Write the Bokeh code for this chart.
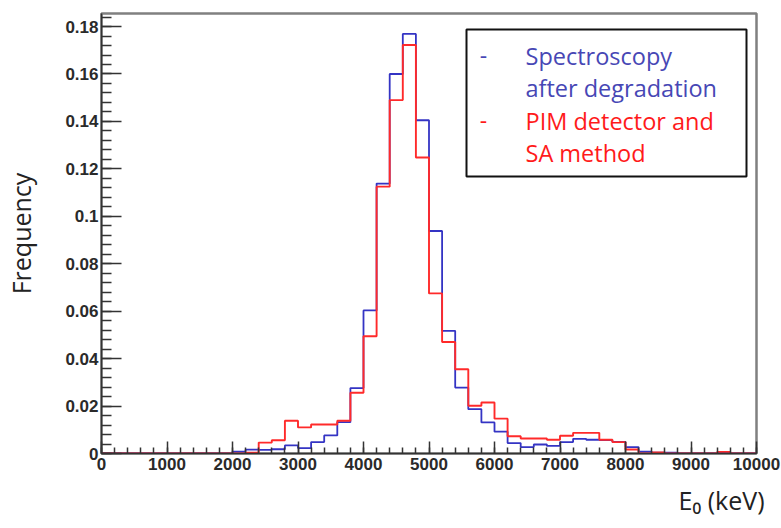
from bokeh.plotting import figure
from bokeh.models import Range1d, FixedTicker, CustomJSTickFormatter, Label, BoxAnnotation, Title
from bokeh.embed import file_html
from bokeh.resources import INLINE

# Bin edges (keV), 200 keV bins from 0 to 10000
bin_width = 200
n_bins = 50
edges = [i * bin_width for i in range(n_bins + 1)]

# Spectroscopy after degradation (blue)
spectroscopy = [0, 0, 0, 0, 0, 0, 0, 0, 0, 0,
                0.0008, 0.0016, 0.0015, 0.0018, 0.0034, 0.0023, 0.0048, 0.0076, 0.0132, 0.0276,
                0.0603, 0.1138, 0.1600, 0.1769, 0.1405, 0.0938, 0.0517, 0.0278, 0.0187, 0.0131,
                0.0092, 0.0044, 0.0027, 0.0038, 0.0032, 0.0048, 0.0062, 0.0058, 0.0056, 0.0049,
                0.0027, 0.0008, 0.0004, 0.0004, 0, 0, 0, 0.0003, 0, 0]

# PIM detector and SA method (red)
pim_sa = [0, 0, 0, 0, 0, 0, 0, 0, 0, 0,
          0, 0.0003, 0.0046, 0.0056, 0.0138, 0.0110, 0.0122, 0.0122, 0.0138, 0.0256,
          0.0494, 0.1125, 0.1490, 0.1722, 0.1248, 0.0675, 0.0470, 0.0355, 0.0201, 0.0215,
          0.0147, 0.0073, 0.0063, 0.0063, 0.0058, 0.0075, 0.0087, 0.0087, 0.0058, 0.0048,
          0.0017, 0, 0.0004, 0, 0, 0, 0, 0.0007, 0, 0]

x_major = [0, 1000, 2000, 3000, 4000, 5000, 6000, 7000, 8000, 9000, 10000]
y_major = [0, 0.02, 0.04, 0.06, 0.08, 0.1, 0.12, 0.14, 0.16, 0.18]

legend_lines = [("Spectroscopy", "#4747b5"), ("after degradation", "#4747b5"),
                ("PIM detector and", "#ff1a1a"), ("SA method", "#ff1a1a")]

p = figure(width=781, height=528, output_backend="svg", toolbar_location=None,
           x_range=Range1d(0, 10000), y_range=Range1d(0, 0.1855),
           min_border_left=101, min_border_right=25, min_border_top=13, min_border_bottom=75)
p.background_fill_color = "white"
p.border_fill_color = "white"
p.xgrid.visible = False
p.ygrid.visible = False
p.outline_line_color = "#808080"
p.outline_line_width = 2.5

# step histograms
xs = edges
blue_y = spectroscopy + [spectroscopy[-1]]
red_y = pim_sa + [pim_sa[-1]]
p.step(xs, blue_y, mode="after", line_color="#3434c4", line_width=1.8)
p.step(xs, red_y, mode="after", line_color="#ff2a2a", line_width=1.9)

tick_font = "Liberation Sans"
for ax in (p.xaxis[0], p.yaxis[0]):
    ax.axis_line_color = "#333333"
    ax.axis_line_width = 1.5
    ax.major_tick_line_color = "#333333"
    ax.minor_tick_line_color = "#333333"
    ax.major_tick_line_width = 1.5
    ax.minor_tick_line_width = 1.5
    ax.major_tick_out = 0
    ax.minor_tick_out = 0
    ax.major_label_text_font = tick_font
    ax.major_label_text_font_size = "17px"
    ax.major_label_text_font_style = "bold"
    ax.major_label_text_color = "#2a2a2a"

p.xaxis.ticker = FixedTicker(ticks=x_major, minor_ticks=[i * 200 for i in range(51)])
p.yaxis.ticker = FixedTicker(ticks=y_major, minor_ticks=[i * 0.004 for i in range(47)])
p.xaxis.major_tick_in = 12
p.xaxis.minor_tick_in = 6
p.yaxis.major_tick_in = 20
p.yaxis.minor_tick_in = 10
p.xaxis.major_label_standoff = 4
p.yaxis.major_label_standoff = 3
p.yaxis.formatter = CustomJSTickFormatter(code="""
    let s = tick.toFixed(2);
    s = s.replace(/0+$/, '').replace(/\\.$/, '');
    return s;
""")

# y axis title
p.yaxis.axis_label = "Frequency"
p.yaxis.axis_label_text_font = "Open Sans"
p.yaxis.axis_label_text_font_size = "25px"
p.yaxis.axis_label_text_font_style = "normal"
p.yaxis.axis_label_text_color = "#222222"
p.yaxis.axis_label_standoff = 24

# x axis title, right aligned under the axis
p.add_layout(Title(text="E\u2080 (keV)", align="right", offset=-8, standoff=16,
                   text_font="Open Sans", text_font_size="25px", text_font_style="normal",
                   text_color="#222222"), "below")

# pixel -> data helpers (frame: x 101..756, y 13..453)
fx0, fx1, fy0, fy1 = 101, 756, 13, 453
def dx(px):
    return (px - fx0) * 10000 / (fx1 - fx0)
def dy(py):
    return (fy1 - py) * 0.1855 / (fy1 - fy0)

# legend box
p.add_layout(BoxAnnotation(left=dx(466), right=dx(746), top=dy(29), bottom=dy(176),
                           fill_color="white", fill_alpha=1.0,
                           line_color="#111111", line_width=2, line_alpha=1.0))
line_ys = [55, 87, 120, 152]
for (txt, col), py in zip(legend_lines, line_ys):
    p.add_layout(Label(x=dx(525), y=dy(py), text=txt, text_align="left", text_baseline="middle",
                       text_font="Open Sans", text_font_size="23.5px", text_color=col))
p.add_layout(Label(x=dx(483), y=dy(55), text="-", text_align="center", text_baseline="middle",
                   text_font="Open Sans", text_font_size="23px", text_color="#4747b5"))
p.add_layout(Label(x=dx(483), y=dy(120), text="-", text_align="center", text_baseline="middle",
                   text_font="Open Sans", text_font_size="23px", text_color="#ff1a1a"))

open("out.html", "w").write(file_html(p, INLINE))
